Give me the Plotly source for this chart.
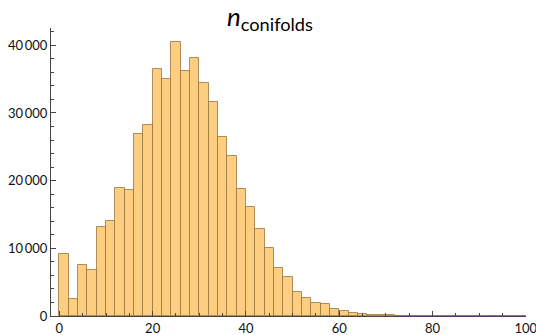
import plotly.graph_objects as go

bin_starts = list(range(0, 100, 2))
counts = [9150, 2580, 7550, 6800, 13220, 14050, 18900, 18600, 26830, 28210,
          36540, 35010, 40440, 36150, 38070, 34370, 31650, 26430, 23620, 18840,
          16120, 12830, 10120, 7060, 5770, 3610, 2660, 1980, 1780, 1040,
          740, 440, 350, 210, 130, 90, 60, 40, 30, 20,
          15, 10, 8, 5, 4, 3, 2, 1, 1, 0]
bin_width = 2
y_tickvals = [0, 10000, 20000, 30000, 40000]
y_ticktext = ["0", "10\u2009000", "20\u2009000", "30\u2009000", "40\u2009000"]
x_tickvals = [0, 20, 40, 60, 80, 100]
title_html = "<i>n</i><sub>conifolds</sub>"

fig = go.Figure(go.Bar(
    x=[s + bin_width / 2 for s in bin_starts],
    y=counts,
    width=bin_width,
    marker=dict(color="#FDCD80", line=dict(color="rgba(150,110,55,0.75)", width=1)),
))

axis_common = dict(showline=True, linecolor="#444", linewidth=1, ticks="inside",
                   tickcolor="#444", ticklen=5, tickwidth=1, showgrid=False, zeroline=False,
                   automargin=False, ticklabeloverflow="allow",
                   tickfont=dict(family="Lato", size=13, color="#111"))

plot_l, plot_r, plot_t, plot_b = 51, 10, 28, 19
plot_h = 335 - plot_t - plot_b
fig.update_layout(
    width=536, height=335,
    margin=dict(l=plot_l, r=plot_r, t=plot_t, b=plot_b, pad=0),
    plot_bgcolor="white", paper_bgcolor="white",
    showlegend=False,
    bargap=0,
    annotations=[dict(text=title_html, x=(270 - plot_l) / (536 - plot_l - plot_r),
                      xref="paper", xanchor="center",
                      y=1 + (plot_t - 17.5) / plot_h, yref="paper", yanchor="middle",
                      showarrow=False,
                      font=dict(family="Lato", size=26, color="#000"))],
    xaxis=dict(range=[-1.8, 100.05], tickvals=x_tickvals,
               minor=dict(ticks="inside", dtick=5, tick0=0, ticklen=3, tickcolor="#444"),
               **axis_common),
    yaxis=dict(range=[0, 42560], tickvals=y_tickvals, ticktext=y_ticktext,
               minor=dict(ticks="inside", dtick=2000, tick0=0, ticklen=3, tickcolor="#444"),
               **axis_common),
)

fig.write_html("out.html", config={"displayModeBar": False},
               post_script="document.body.style.margin='0';")
